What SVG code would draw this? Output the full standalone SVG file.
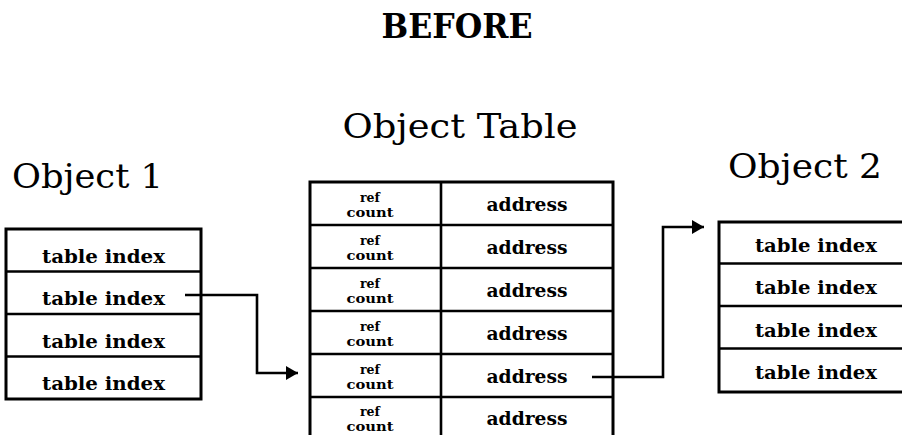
<svg xmlns="http://www.w3.org/2000/svg" width="902" height="435" viewBox="0 0 902 435">
  <style>
    .box { fill: #ffffff; stroke: #000000; stroke-width: 3; }
    .div { stroke: #000000; stroke-width: 2.6; fill: none; }
    .title { font-family: "DejaVu Serif", "Liberation Serif", serif; font-size: 33px; fill: #000000; }
    .head { font-family: "DejaVu Serif", "Liberation Serif", serif; font-size: 34px; font-weight: bold; fill: #000000; }
    .cell { font-family: "DejaVu Serif", "Liberation Serif", serif; font-size: 19px; font-weight: bold; fill: #000000; }
    .small { font-family: "DejaVu Serif", "Liberation Serif", serif; font-size: 12.5px; font-weight: bold; fill: #000000; }
    .conn { stroke: #000000; stroke-width: 2.6; fill: none; }
  </style>
  <defs>
    <marker id="arrow" markerUnits="userSpaceOnUse" markerWidth="13" markerHeight="16" refX="12" refY="8" orient="auto">
      <path d="M0,1 L12,8 L0,15 Z" fill="#000000"/>
    </marker>
  </defs>

  <rect x="0" y="0" width="902" height="435" fill="#ffffff"/>

  <text class="head" x="457" y="38" text-anchor="middle" textLength="151" lengthAdjust="spacingAndGlyphs">BEFORE</text>

  <g id="object1">
    <text class="title" x="12" y="188" textLength="151" lengthAdjust="spacingAndGlyphs">Object 1</text>
    <rect class="box" x="6" y="229" width="195" height="170"/>
    <line class="div" x1="6" y1="271.5" x2="201" y2="271.5"/>
    <line class="div" x1="6" y1="314" x2="201" y2="314"/>
    <line class="div" x1="6" y1="356.5" x2="201" y2="356.5"/>
    <text class="cell" x="103.5" y="263" text-anchor="middle" textLength="123" lengthAdjust="spacingAndGlyphs">table index</text>
    <text class="cell" x="103.5" y="305" text-anchor="middle" textLength="123" lengthAdjust="spacingAndGlyphs">table index</text>
    <text class="cell" x="103.5" y="348" text-anchor="middle" textLength="123" lengthAdjust="spacingAndGlyphs">table index</text>
    <text class="cell" x="103.5" y="390" text-anchor="middle" textLength="123" lengthAdjust="spacingAndGlyphs">table index</text>
  </g>

  <g id="objectTable">
    <text class="title" x="460" y="138" text-anchor="middle" textLength="235" lengthAdjust="spacingAndGlyphs">Object Table</text>
    <rect class="box" x="310" y="182" width="303" height="262"/>
    <line class="div" x1="441" y1="182" x2="441" y2="440"/>
    <line class="div" x1="310" y1="225" x2="613" y2="225"/>
    <line class="div" x1="310" y1="268" x2="613" y2="268"/>
    <line class="div" x1="310" y1="311" x2="613" y2="311"/>
    <line class="div" x1="310" y1="354" x2="613" y2="354"/>
    <line class="div" x1="310" y1="397" x2="613" y2="397"/>

    <text class="small" text-anchor="middle"><tspan x="370" y="202">ref</tspan><tspan x="370" y="217" textLength="47" lengthAdjust="spacingAndGlyphs">count</tspan></text>
    <text class="cell" x="527" y="211" text-anchor="middle" textLength="81" lengthAdjust="spacingAndGlyphs">address</text>

    <text class="small" text-anchor="middle"><tspan x="370" y="245">ref</tspan><tspan x="370" y="260" textLength="47" lengthAdjust="spacingAndGlyphs">count</tspan></text>
    <text class="cell" x="527" y="254" text-anchor="middle" textLength="81" lengthAdjust="spacingAndGlyphs">address</text>

    <text class="small" text-anchor="middle"><tspan x="370" y="288">ref</tspan><tspan x="370" y="303" textLength="47" lengthAdjust="spacingAndGlyphs">count</tspan></text>
    <text class="cell" x="527" y="297" text-anchor="middle" textLength="81" lengthAdjust="spacingAndGlyphs">address</text>

    <text class="small" text-anchor="middle"><tspan x="370" y="331">ref</tspan><tspan x="370" y="346" textLength="47" lengthAdjust="spacingAndGlyphs">count</tspan></text>
    <text class="cell" x="527" y="340" text-anchor="middle" textLength="81" lengthAdjust="spacingAndGlyphs">address</text>

    <text class="small" text-anchor="middle"><tspan x="370" y="374">ref</tspan><tspan x="370" y="389" textLength="47" lengthAdjust="spacingAndGlyphs">count</tspan></text>
    <text class="cell" x="527" y="383" text-anchor="middle" textLength="81" lengthAdjust="spacingAndGlyphs">address</text>

    <text class="small" text-anchor="middle"><tspan x="370" y="416">ref</tspan><tspan x="370" y="431" textLength="47" lengthAdjust="spacingAndGlyphs">count</tspan></text>
    <text class="cell" x="527" y="425" text-anchor="middle" textLength="81" lengthAdjust="spacingAndGlyphs">address</text>
  </g>

  <g id="object2">
    <text class="title" x="728" y="178" textLength="154" lengthAdjust="spacingAndGlyphs">Object 2</text>
    <rect class="box" x="719" y="222" width="200" height="170"/>
    <line class="div" x1="719" y1="263.5" x2="902" y2="263.5"/>
    <line class="div" x1="719" y1="306" x2="902" y2="306"/>
    <line class="div" x1="719" y1="348.5" x2="902" y2="348.5"/>
    <text class="cell" x="816" y="252" text-anchor="middle" textLength="122" lengthAdjust="spacingAndGlyphs">table index</text>
    <text class="cell" x="816" y="294" text-anchor="middle" textLength="122" lengthAdjust="spacingAndGlyphs">table index</text>
    <text class="cell" x="816" y="337" text-anchor="middle" textLength="122" lengthAdjust="spacingAndGlyphs">table index</text>
    <text class="cell" x="816" y="379" text-anchor="middle" textLength="122" lengthAdjust="spacingAndGlyphs">table index</text>
  </g>

  <g id="connectors">
    <path class="conn" d="M185,295 H257 V373 H298" marker-end="url(#arrow)"/>
    <path class="conn" d="M592,377 H663 V227 H704" marker-end="url(#arrow)"/>
  </g>
</svg>
